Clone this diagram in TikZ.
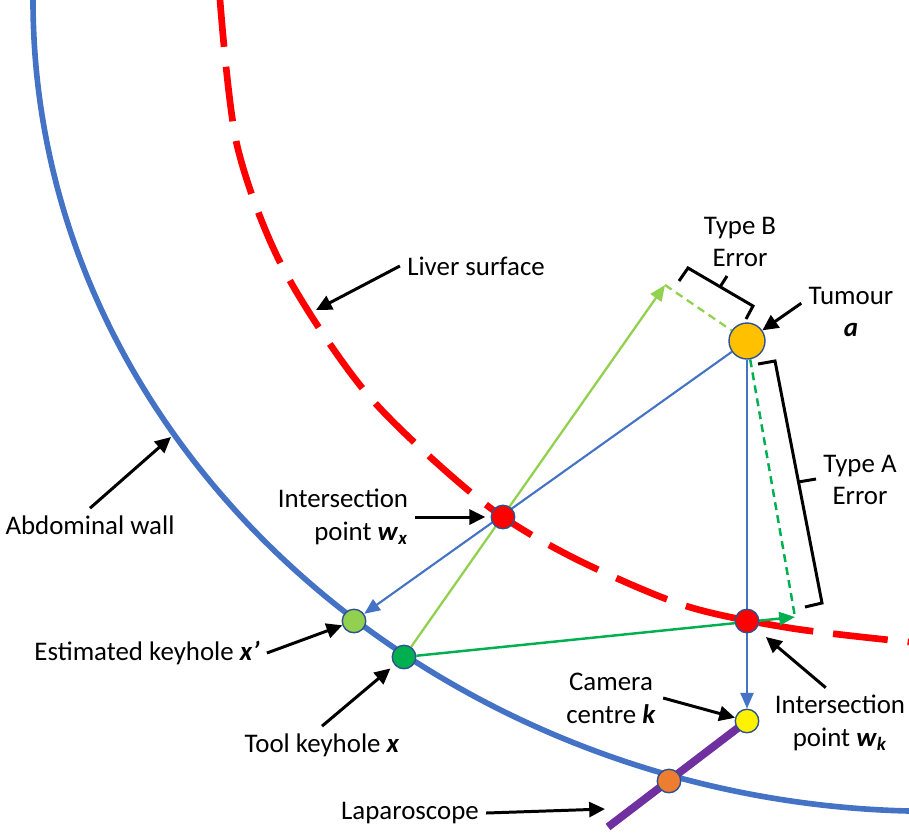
\documentclass[tikz,border=0pt]{standalone}
\usepackage{fontspec}
\setmainfont{Carlito}
\usepackage{tikz}
\usepackage{xcolor}
\usetikzlibrary{arrows.meta,backgrounds}

\definecolor{wallblue}{HTML}{4472C4}
\definecolor{liverred}{HTML}{FF0000}
\definecolor{lightgreen}{HTML}{92D050}
\definecolor{toolgreen}{HTML}{00B050}
\definecolor{tumourorange}{HTML}{FFC000}
\definecolor{portorange}{HTML}{ED7D31}
\definecolor{scopepurple}{HTML}{7030A0}
\definecolor{rimblue}{HTML}{2F528F}

\newcommand{\bvar}[1]{\textbf{\textit{#1}}}

\begin{document}
\begin{tikzpicture}[x=0.02cm, y=-0.02cm,
  font=\fontsize{15.3}{18.7}\selectfont,
  dot/.style={circle, draw=rimblue, line width=0.8pt, inner sep=0pt, minimum size=0.47cm},
  lbl/.style={inner sep=4pt, align=center},
  callout/.style={line width=1.7pt, -{Triangle[length=9pt,width=8.5pt]}},
  ray/.style={-{Triangle[length=9pt,width=7.5pt]}},
  errbrace/.style={line width=1.7pt, line join=miter}]
  \useasboundingbox (0,0) rectangle (909,833);

  % Points on the wall, the liver and the tumour
  \node[dot, fill=tumourorange, minimum size=0.72cm] (tum) at (747,341) {};
  \node[dot, fill=liverred] (wx) at (503,517) {};
  \node[dot, fill=liverred] (wk) at (747,621) {};
  \node[dot, fill=lightgreen] (xp) at (354,621) {};
  \node[dot, fill=toolgreen] (xt) at (404,657) {};
  \node[dot, fill=yellow] (kcam) at (747,721) {};
  \node[dot, fill=portorange] (port) at (669,781) {};

  % Free ends
  \coordinate (tipB) at (665,285);
  \coordinate (tipA) at (795,617);
  \coordinate (scopeend) at (608,827);
  \coordinate (livertip) at (316,310);
  \coordinate (abdtip) at (171,437);
  \coordinate (scopetip) at (605,809);

  \begin{pgfonlayer}{background}
    % Abdominal wall
    \draw[wallblue, line width=3.2pt] (33,0) .. controls (33,450) and (440,800) .. (909,811);
    % Liver surface
    \draw[liverred, line width=3.8pt, dash pattern=on 1.1cm off 0.4cm, dash phase=0.16cm]
      plot[smooth] coordinates {(220,0) (237,145) (283,268) (368,395) (480,500)
      (568,555) (683,605) (790,628) (909,642)};
    % Rays
    \draw[ray, wallblue, line width=1.2pt] (tum) -- (xp);
    \draw[ray, wallblue, line width=1.2pt] (tum) -- (kcam);
    \draw[ray, lightgreen, line width=1.3pt] (xt) -- (tipB);
    \draw[ray, toolgreen, line width=1.4pt] (xt) -- (tipA);
    \draw[lightgreen, line width=1.3pt, dash pattern=on 4.5pt off 3pt] (tipB) -- (tum);
    \draw[toolgreen, line width=1.4pt, dash pattern=on 4.5pt off 3pt] (tum) -- (tipA);
    % Laparoscope
    \draw[scopepurple, line width=4.5pt] (kcam.center) -- (scopeend);
  \end{pgfonlayer}

  % Error braces
  \draw[errbrace] (679,281) -- (688,268) -- (753,306) -- (746,319);
  \draw[errbrace] (720,287) -- (727,276);
  \draw[errbrace] (758,364) -- (775,361) -- (822,603) -- (805,607);
  \draw[errbrace] (798,482) -- (816,479);

  % Labels
  \node[lbl] (liverlbl) at (476,266) {Liver surface};
  \node[lbl] (abdlbl) at (90,525) {Abdominal wall};
  \node[lbl, align=right] (wxlbl) at (343,517) {Intersection\\point \bvar{w}\textsubscript{\bvar{x}}};
  \node[lbl] (xplbl) at (147,653) {Estimated keyhole \bvar{x’}};
  \node[lbl] (xtlbl) at (322,745) {Tool keyhole \bvar{x}};
  \node[lbl] (scopelbl) at (410,813) {Laparoscope};
  \node[lbl] (kcamlbl) at (611,698) {Camera\\centre \bvar{k}};
  \node[lbl] (wklbl) at (840,723) {Intersection\\point \bvar{w}\textsubscript{\bvar{k}}};
  \node[lbl] (tumlbl) at (851,312) {Tumour\\\bvar{a}};
  \node[lbl] (typeBlbl) at (740,242) {Type B\\Error};
  \node[lbl] (typeAlbl) at (860,480) {Type A\\Error};

  % Callouts
  \draw[callout] (liverlbl.west) -- (livertip);
  \draw[callout] (abdlbl.north) -- (abdtip);
  \draw[callout, shorten >=3pt] (wxlbl.east) -- (wx);
  \draw[callout] (xplbl.east) -- (xp);
  \draw[callout, shorten >=3pt] (xtlbl.north) -- (xt);
  \draw[callout] (scopelbl.east) -- (scopetip);
  \draw[callout] (kcamlbl.east) -- (kcam);
  \draw[callout, shorten >=7pt] (wklbl.112) -- (wk);
  \draw[callout] (tumlbl.170) -- (tum);
\end{tikzpicture}
\end{document}
